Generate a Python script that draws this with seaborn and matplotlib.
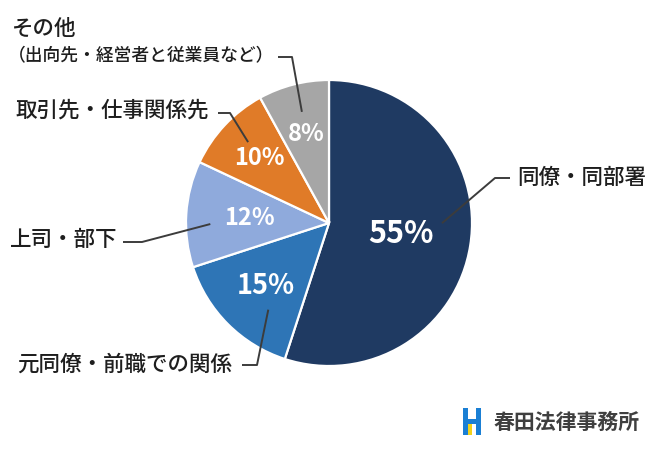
import numpy as np
import matplotlib
matplotlib.use("Agg")
from matplotlib import pyplot as plt
from matplotlib.patches import Rectangle
import seaborn as sns

labels = ['同僚・同部署', '元同僚・前職での関係', '上司・部下',
          '取引先・仕事関係先', 'その他']
sub_labels = ['', '', '', '', '（出向先・経営者と従業員など）']
shares = [55, 15, 12, 10, 8]
colors = ['#1f3a62', '#2e75b6', '#8faadc', '#e07b28', '#a6a6a6']

sns.set_theme(style='white')
plt.rcParams['font.family'] = ['Noto Sans CJK JP', 'DejaVu Sans']

# pie centre / radius in pixels, axes cover the whole figure
W, H = 659, 450
cx, cy, R = 329, 223, 143


def P(x, y):
    # pixel position (from top-left) -> data coords
    return ((x - cx) / R, (cy - y) / R)


fig = plt.figure(figsize=(W / 100, H / 100), dpi=100)
ax = fig.add_axes([0, 0, 1, 1])
wedges, _ = ax.pie(shares, colors=colors, startangle=90, counterclock=False,
                   radius=1, wedgeprops=dict(edgecolor='white', linewidth=1.6))
ax.set_xlim(-cx / R, (W - cx) / R)
ax.set_ylim(-(H - cy) / R, cy / R)
ax.set_aspect('equal')
ax.axis('off')

# percent labels: radius, fontsize
pct_style = [(0.51, 22), (0.62, 19.5), (0.56, 17), (0.665, 17), (0.645, 17)]
for w, v, (r, fs) in zip(wedges, shares, pct_style):
    a = np.deg2rad((w.theta1 + w.theta2) / 2)
    ax.text(r * np.cos(a), r * np.sin(a), f'{v}%', color='white',
            fontsize=fs, fontweight='bold', ha='center', va='center')

# leader lines: (position along wedge, radius), elbow px, end px, text px, align
leaders = [
    ((0.545, 0.79), (495, 178), (510, 178), (517, 178), 'left'),
    ((0.685, 0.74), (257, 365), (242, 365), (232, 365), 'right'),
    ((0.595, 0.83), (142, 242), (123, 242), (117, 240), 'right'),
    ((0.45, 0.80), (230, 113), (218, 113), (209, 111), 'right'),
    ((0.476, 0.80), (292, 57), (278, 57), None, 'right'),
]
line_col = '#3c3c3c'
for w, lab, sub, (anc, elbow, end, tpos, ha) in zip(wedges, labels, sub_labels, leaders):
    f, r = anc
    a = np.deg2rad(w.theta1 + f * (w.theta2 - w.theta1))
    xs = [r * np.cos(a), P(*elbow)[0], P(*end)[0]]
    ys = [r * np.sin(a), P(*elbow)[1], P(*end)[1]]
    ax.plot(xs, ys, color=line_col, lw=1.4, solid_capstyle='butt')
    if sub:
        ax.text(*P(12, 29), lab, fontsize=15.5, ha='left', va='center',
                color='#1e1e1e', fontweight='medium')
        ax.text(*P(8, 56), sub, fontsize=12.8, ha='left', va='center',
                color='#1e1e1e', fontweight='medium')
    else:
        ax.text(*P(*tpos), lab, fontsize=15.5, ha=ha, va='center',
                color='#1e1e1e', fontweight='medium')

# logo
x0, y0 = P(463, 435)
x1, y1 = P(481, 408)
ax.add_patch(Rectangle((x0, y0), x1 - x0, y1 - y0, color='#1a7fd4', lw=0))
gx0, _ = P(468, 0)
gx1, _ = P(476, 0)
_, gy0 = P(0, 419)
_, gy1 = P(0, 408)
ax.add_patch(Rectangle((gx0, gy0), gx1 - gx0, gy1 - gy0, color='white', lw=0))
_, by0 = P(0, 435)
_, by1 = P(0, 424)
ax.add_patch(Rectangle((gx0, by0), gx1 - gx0, by1 - by0, color='white', lw=0))
ax.add_patch(Rectangle((gx0, by0), (gx1 - gx0) * 0.55, by1 - by0, color='#f2d21b', lw=0))
ax.text(*P(494, 422), '春田法律事務所', fontsize=15, fontweight='bold',
        color='#3f3f3f', ha='left', va='center')

fig.savefig('out.png', dpi=100, facecolor='white')
